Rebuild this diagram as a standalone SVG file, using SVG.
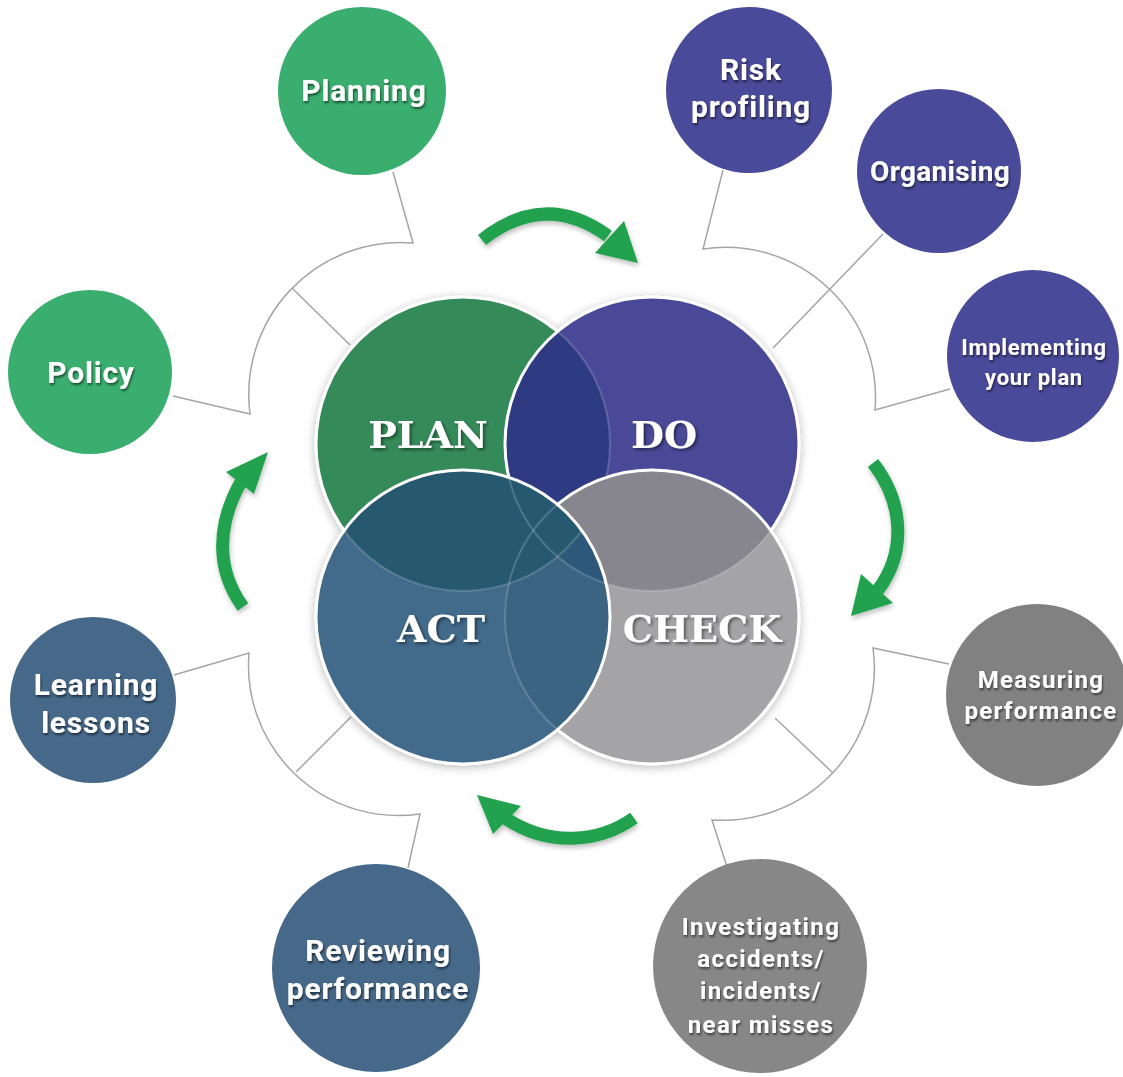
<svg xmlns="http://www.w3.org/2000/svg" width="1123" height="1077" viewBox="0 0 1123 1077">
<defs>
<style>
.sat text{font-family:Roboto,"Liberation Sans",Arial,sans-serif;font-weight:700;fill:#fff;text-anchor:middle;}
.s30{font-size:30px;letter-spacing:0.8px;}
.s28{font-size:28px;letter-spacing:0.3px;}
.s24{font-size:24px;letter-spacing:1.3px;}
.s22{font-size:22px;letter-spacing:0.7px;}
.big{font-family:"DejaVu Serif","Liberation Serif",serif;font-weight:700;font-size:38px;fill:#fff;text-anchor:middle;}
.conn{fill:none;stroke:#a5a5a5;stroke-width:1.5;}
.arw path{fill:none;stroke:#22a24f;stroke-width:13;}
.arw polygon{fill:#22a24f;}
.ring{fill:none;stroke:#fff;stroke-width:3;}
.faint{fill:none;stroke:#fff;stroke-width:2;stroke-opacity:0.18;}
.green{fill:#39ae6e;}
.purple{fill:#4a4a9a;}
.blue{fill:#46698a;}
</style>
<filter id="soft" x="-20%" y="-20%" width="140%" height="140%"><feDropShadow dx="0" dy="2" stdDeviation="5" flood-color="#000" flood-opacity="0.28"/></filter>
<filter id="tsh" x="-10%" y="-20%" width="120%" height="150%"><feDropShadow dx="1" dy="2" stdDeviation="1.2" flood-color="#000" flood-opacity="0.55"/></filter>
<filter id="bsh" x="-10%" y="-20%" width="120%" height="150%"><feDropShadow dx="2" dy="2" stdDeviation="1.5" flood-color="#000" flood-opacity="0.45"/></filter>
<filter id="ash" x="-20%" y="-20%" width="140%" height="140%"><feDropShadow dx="1" dy="3" stdDeviation="2.5" flood-color="#000" flood-opacity="0.25"/></filter>
<clipPath id="cPlan"><circle cx="463" cy="444" r="147"/></clipPath>
<clipPath id="cDo"><circle cx="652" cy="444" r="147"/></clipPath>
<clipPath id="cCheck"><circle cx="652" cy="617" r="147"/></clipPath>
<clipPath id="cAct"><circle cx="463" cy="617" r="147"/></clipPath>
</defs>
<rect width="1123" height="1077" fill="#fff"/>

<g id="connectors">
  <path class="conn" d="M393 172 L413 243 A152 152 0 0 0 250 414 L173 396"/>
  <path class="conn" d="M292 288 L350 345"/>
  <path class="conn" d="M723 170 L703 249 A150 150 0 0 1 875 410 L950 389"/>
  <path class="conn" d="M883 234 L773 348"/>
  <path class="conn" d="M949 664 L873 648 A152 152 0 0 1 712 820 L728 870"/>
  <path class="conn" d="M833 773 L775 718"/>
  <path class="conn" d="M174 675 L249 653 A150 150 0 0 0 420 814 L408 868"/>
  <path class="conn" d="M296 772 L351 717"/>
  <g id="cycle-arrows" class="arw" filter="url(#ash)">
    <g><path d="M482 240 Q545 190 608 236"/><polygon points="638,263 624,221 595,253"/></g>
    <g><path d="M873 463 C902 500 908 550 878 590"/><polygon points="851,616 861,574 893,603"/></g>
    <g><path d="M634 818 C600 842 550 848 505 818"/><polygon points="477,795 521,806 493,834"/></g>
    <g><path d="M243 607 C216 570 216 525 242 480"/><polygon points="268,452 226,472 254,494"/></g>
  </g>
</g>

<g id="venn" filter="url(#soft)">
  <g id="node-plan">
    <circle cx="463" cy="444" r="147" fill="#368a5a"/>
    <circle class="ring" cx="463" cy="444" r="147"/>
  </g>
  <g id="node-do">
    <circle cx="652" cy="444" r="147" fill="#4a4a98"/>
    <circle cx="652" cy="444" r="147" fill="#2e3a83" clip-path="url(#cPlan)"/>
    <circle class="faint" cx="463" cy="444" r="147" clip-path="url(#cDo)"/>
    <circle class="ring" cx="652" cy="444" r="147"/>
  </g>
  <g id="node-check">
    <circle cx="652" cy="617" r="147" fill="#a4a4a6"/>
    <circle cx="652" cy="617" r="147" fill="#87868f" clip-path="url(#cDo)"/>
    <circle class="faint" cx="652" cy="444" r="147" clip-path="url(#cCheck)"/>
    <circle class="ring" cx="652" cy="617" r="147"/>
  </g>
  <g id="node-act">
    <circle cx="463" cy="617" r="147" fill="#426a8a"/>
    <circle cx="463" cy="617" r="147" fill="#3a6382" clip-path="url(#cCheck)"/>
    <circle cx="463" cy="617" r="147" fill="#2d5879" clip-path="url(#cDo)"/>
    <circle cx="463" cy="617" r="147" fill="#25596f" clip-path="url(#cPlan)"/>
    <g clip-path="url(#cAct)">
      <circle class="faint" cx="463" cy="444" r="147"/>
      <circle class="faint" cx="652" cy="444" r="147"/>
      <circle class="faint" cx="652" cy="617" r="147"/>
    </g>
    <circle class="ring" cx="463" cy="617" r="147"/>
  </g>
</g>
<g id="venn-labels" filter="url(#bsh)">
  <text class="big" x="428" y="448">PLAN</text>
  <text class="big" x="664" y="448">DO</text>
  <text class="big" x="441" y="642">ACT</text>
  <text class="big" x="702" y="642">CHECK</text>
</g>

<g id="node-planning" class="sat">
  <circle class="green" cx="362" cy="91" r="84"/>
  <text class="s30" x="364" y="101" filter="url(#tsh)">Planning</text>
</g>
<g id="node-policy" class="sat">
  <circle class="green" cx="90" cy="372" r="82"/>
  <text class="s30" x="91" y="383" filter="url(#tsh)">Policy</text>
</g>
<g id="node-risk" class="sat">
  <circle class="purple" cx="749" cy="90" r="83"/>
  <text class="s30" filter="url(#tsh)"><tspan x="751" y="80">Risk</tspan><tspan x="751" y="117">profiling</tspan></text>
</g>
<g id="node-organising" class="sat">
  <circle class="purple" cx="939" cy="171" r="82"/>
  <text class="s28" x="940" y="181" filter="url(#tsh)">Organising</text>
</g>
<g id="node-implementing" class="sat">
  <circle class="purple" cx="1033" cy="356" r="86"/>
  <text class="s22" filter="url(#tsh)"><tspan x="1034" y="355">Implementing</tspan><tspan x="1034" y="385">your plan</tspan></text>
</g>
<g id="node-measuring" class="sat">
  <circle fill="#818181" cx="1037" cy="695" r="91"/>
  <text class="s24" filter="url(#tsh)"><tspan x="1041" y="688">Measuring</tspan><tspan x="1041" y="719">performance</tspan></text>
</g>
<g id="node-investigating" class="sat">
  <circle fill="#878787" cx="760" cy="966" r="107"/>
  <text class="s24" style="letter-spacing:1.4px" filter="url(#tsh)"><tspan x="761" y="935">Investigating</tspan><tspan x="761" y="967">accidents/</tspan><tspan x="761" y="999">incidents/</tspan><tspan x="761" y="1033">near misses</tspan></text>
</g>
<g id="node-reviewing" class="sat">
  <circle class="blue" cx="376" cy="968" r="104"/>
  <text class="s30" filter="url(#tsh)"><tspan x="378" y="961">Reviewing</tspan><tspan x="378" y="999">performance</tspan></text>
</g>
<g id="node-learning" class="sat">
  <circle class="blue" cx="93" cy="700" r="83"/>
  <text class="s30" filter="url(#tsh)"><tspan x="96" y="695">Learning</tspan><tspan x="96" y="733">lessons</tspan></text>
</g>
</svg>
